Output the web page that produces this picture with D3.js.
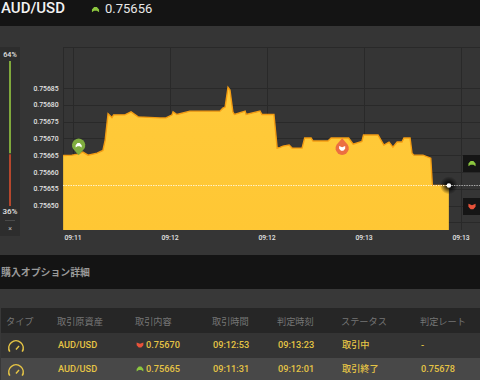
<!DOCTYPE html>
<html>
<head>
<meta charset="utf-8">
<script src="https://cdn.jsdelivr.net/npm/d3@7/dist/d3.min.js"></script>
<style>
  html, body { margin: 0; padding: 0; background: #141414; overflow: hidden; }
  text { font-family: Roboto, "Noto Sans CJK JP", sans-serif; }
  .cjk { font-family: "Noto Sans CJK JP", Roboto, sans-serif; }
</style>
</head>
<body>
<svg id="chart" width="480" height="380"></svg>
<script>
  // DATA
  // seconds after 09:11:00
  var priceSeconds = [27.1, 29.8, 31.7, 33.2, 34.8, 37.6, 39.4, 40.1, 41.0, 42.2, 42.7, 46.2, 48.1, 50.3, 57.1, 58.9,
    60.8, 61.1, 62.3, 66.3, 75.6, 76.5, 77.2, 78.1, 78.7, 79.6, 80.1, 83.4, 83.7, 88.0, 88.6, 92.3, 93.3, 94.2, 95.1,
    97.0, 97.9, 101.0, 101.8, 103.8, 104.4, 109.0, 110.0, 115.4, 116.8, 119.5, 120.0, 124.5, 125.4, 126.3, 127.9,
    129.1, 130.4, 131.9, 132.5, 134.4, 135.0, 135.6, 138.4, 140.8, 141.3, 146.4]
  var priceValues = [0.756649, 0.756650, 0.756653, 0.756659, 0.756650, 0.756656, 0.756664, 0.756695, 0.756773,
    0.756762, 0.756770, 0.756770, 0.756779, 0.756764, 0.756761, 0.756761, 0.756770, 0.756779, 0.756771, 0.756781,
    0.756781, 0.756790, 0.756793, 0.756852, 0.756844, 0.756779, 0.756771, 0.756781, 0.756771, 0.756781, 0.756771,
    0.756771, 0.756671, 0.756673, 0.756677, 0.756680, 0.756671, 0.756671, 0.756701, 0.756701, 0.756692, 0.756692,
    0.756701, 0.756701, 0.756683, 0.756691, 0.756710, 0.756710, 0.756695, 0.756680, 0.756689, 0.756674, 0.756689,
    0.756689, 0.756701, 0.756701, 0.756656, 0.756650, 0.756650, 0.756641, 0.756560, 0.756560]
  var yTicks = [0.75645, 0.75650, 0.75655, 0.75660, 0.75665, 0.75670, 0.75675, 0.75680, 0.75685]
  var xTickSeconds = [30, 60, 90, 120, 150]
  var currentRate = 0.75656
  var pinSeconds = [31.9, 113.4]
  var pinRates = [0.75665, 0.75670]
  var pinKinds = ['up', 'down']
  var tableColumns = ['タイプ', '取引原資産', '取引内容', '取引時間', '判定時刻', 'ステータス', '判定レート']
  var rowAssets = ['AUD/USD', 'AUD/USD']
  var rowRates = ['0.75670', '0.75665']
  var rowKinds = ['down', 'up']
  var rowTradeTimes = ['09:12:53', '09:11:31']
  var rowEndTimes = ['09:13:23', '09:12:01']
  var rowStatus = ['取引中', '取引終了']
  var rowResults = ['-', '0.75678']

  // CONSTANTS
  var plot = { left: 63, right: 480, top: 47, bottom: 230 }
  var baseTime = new Date(2016, 0, 1, 9, 11, 0).getTime()
  var green = '#8cc63f'
  var red = '#e8533a'
  var tableColor = '#e6c545'
  var headerColor = '#757575'
  var columnX = [6, 57, 135, 212, 277, 341, 420]
  var rowY = [345, 369]

  function toDate (seconds) { return new Date(baseTime + seconds * 1000) }

  var svg = d3.select('#chart')

  // gradient and glow
  var defs = svg.append('defs')
  var areaGradient = defs.append('linearGradient').attr('id', 'areaFill')
    .attr('x1', 0).attr('x2', 0).attr('y1', 0).attr('y2', 1)
  areaGradient.append('stop').attr('offset', '0%').attr('stop-color', '#ffca3a')
  areaGradient.append('stop').attr('offset', '100%').attr('stop-color', '#ffc734')
  var glow = defs.append('radialGradient').attr('id', 'glow')
  glow.append('stop').attr('offset', '20%').attr('stop-color', '#000').attr('stop-opacity', 0.9)
  glow.append('stop').attr('offset', '100%').attr('stop-color', '#000').attr('stop-opacity', 0)

  // BACKGROUND BANDS
  svg.append('rect').attr('width', 480).attr('height', 380).attr('fill', '#141414')
  svg.append('rect').attr('y', 26).attr('width', 480).attr('height', 229).attr('fill', '#353535')
  svg.append('rect').attr('y', 47).attr('width', 20).attr('height', 189).attr('fill', '#2d2d2d')
  svg.append('rect').attr('y', 289).attr('width', 480).attr('height', 91).attr('fill', '#383838')

  // SCALES AND AXES
  var xScale = d3.scaleTime()
    .domain([toDate(30), toDate(150)])
    .range([72.5, 460.5])
  var yScale = d3.scaleLinear()
    .domain([0.75650, 0.75685])
    .range([205.5, 88])

  var chartG = svg.append('g')

  // grid
  var gridColor = '#292929'
  chartG.selectAll('.grid-h')
    .data(yTicks)
    .enter().append('line')
    .attr('class', 'grid-h')
    .attr('x1', plot.left).attr('x2', plot.right)
    .attr('y1', function (d) { return Math.round(yScale(d)) + 0.5 })
    .attr('y2', function (d) { return Math.round(yScale(d)) + 0.5 })
    .style('stroke', gridColor)
  chartG.selectAll('.grid-v')
    .data(xTickSeconds)
    .enter().append('line')
    .attr('class', 'grid-v')
    .attr('x1', function (d) { return Math.round(xScale(toDate(d))) + 0.5 })
    .attr('x2', function (d) { return Math.round(xScale(toDate(d))) + 0.5 })
    .attr('y1', plot.top).attr('y2', plot.bottom)
    .style('stroke', gridColor)
  chartG.append('line').attr('x1', plot.left).attr('x2', plot.right).attr('y1', plot.top + 0.5).attr('y2', plot.top + 0.5).style('stroke', gridColor)
  chartG.append('line').attr('x1', plot.left + 0.5).attr('x2', plot.left + 0.5).attr('y1', plot.top).attr('y2', plot.bottom).style('stroke', gridColor)

  // y axis labels
  var yAxis = d3.axisLeft(yScale)
    .tickValues(yTicks)
    .tickSize(0)
    .tickPadding(0)
    .tickFormat(function (d) { return d < 0.75649 ? '' : d3.format('.5f')(d) })
  var yAxisElement = svg.append('g')
    .attr('transform', 'translate(58.5,0)')
    .call(yAxis)
  yAxisElement.select('.domain').remove()
  yAxisElement.selectAll('text')
    .style('font-family', 'Roboto, sans-serif')
    .style('font-size', '6.8px')
    .style('font-weight', 500)
    .style('fill', '#e4e4e4')

  // x axis labels
  var xAxis = d3.axisBottom(xScale)
    .tickValues(xTickSeconds.map(toDate))
    .tickSize(0)
    .tickPadding(0)
    .tickFormat(d3.timeFormat('%H:%M'))
  var xAxisElement = svg.append('g')
    .attr('transform', 'translate(0,' + (plot.bottom + 5.5) + ')')
    .call(xAxis)
  xAxisElement.select('.domain').remove()
  xAxisElement.selectAll('text')
    .style('font-family', 'Roboto, sans-serif')
    .style('font-size', '6.8px')
    .style('font-weight', 500)
    .style('fill', '#e4e4e4')

  // price area
  var priceData = priceSeconds.map(function (s, i) { return { time: toDate(s), value: priceValues[i] } })
  var priceArea = d3.area()
    .x(function (d) { return xScale(d.time) })
    .y0(plot.bottom)
    .y1(function (d) { return yScale(d.value) })
  var priceLine = d3.line()
    .x(function (d) { return xScale(d.time) })
    .y(function (d) { return yScale(d.value) })
  chartG.append('path').datum(priceData).attr('d', priceArea).attr('fill', 'url(#areaFill)')
  chartG.append('path').datum(priceData).attr('d', priceLine)
    .attr('fill', 'none')
    .style('stroke', '#f39c12')
    .style('stroke-width', 1.4)

  // current rate line and marker
  var lastPoint = priceData[priceData.length - 1]
  var currentX = xScale(lastPoint.time)
  var currentY = yScale(currentRate)
  chartG.append('circle')
    .attr('cx', currentX).attr('cy', currentY).attr('r', 9)
    .attr('fill', 'url(#glow)')
  chartG.append('line')
    .attr('x1', plot.left).attr('x2', currentX)
    .attr('y1', Math.round(currentY) + 0.5).attr('y2', Math.round(currentY) + 0.5)
    .style('stroke', '#fff2c8')
    .style('stroke-dasharray', '1.5,1')
  chartG.append('line')
    .attr('x1', currentX).attr('x2', plot.right)
    .attr('y1', Math.round(currentY) + 0.5).attr('y2', Math.round(currentY) + 0.5)
    .style('stroke', '#a8a8a8')
    .style('stroke-dasharray', '1.5,1')
  chartG.append('circle')
    .attr('cx', currentX).attr('cy', Math.round(currentY) + 0.5).attr('r', 2.3)
    .attr('fill', '#fff')

  // chevron icons, drawn around 0,0
  var chevronUp = 'M-4.2,3.2 L-4.2,0 L-1.6,-3 L1.6,-3 L4.2,0 L4.2,3.2 L1.6,1.4 L-1.6,1.4 Z'
  var chevronDown = 'M-4.2,-3.2 L0,-1.6 L4.2,-3.2 L4.2,0.4 L1.6,3.2 L-1.6,3.2 L-4.2,0.4 Z'
  function chevron (parent, kind, x, y, scale, color) {
    parent.append('path')
      .attr('d', kind === 'up' ? chevronUp : chevronDown)
      .attr('transform', 'translate(' + x + ',' + y + ') scale(' + scale + ')')
      .attr('fill', color)
  }

  // trade pins
  pinSeconds.forEach(function (s, i) {
    var up = pinKinds[i] === 'up'
    var tipX = xScale(toDate(s))
    var tipY = yScale(pinRates[i])
    var dir = up ? -1 : 1
    var color = up ? '#7fad3f' : '#ec6f41'
    var pin = chartG.append('g').attr('transform', 'translate(' + tipX + ',' + tipY + ')')
    pin.append('path')
      .attr('d', 'M0,0 L-5.6,' + (dir * 6.5) + ' A6.6,6.6 0 1 ' + (up ? 1 : 0) + ' 5.6,' + (dir * 6.5) + ' Z')
      .attr('fill', color)
    chevron(pin, pinKinds[i], 0, dir * 10, 0.72, '#fff')
  })

  // right side buttons
  var buttonKinds = ['up', 'down']
  var buttonY = [155, 198]
  buttonKinds.forEach(function (kind, i) {
    svg.append('rect').attr('x', 463).attr('y', buttonY[i]).attr('width', 17).attr('height', 17).attr('fill', '#151515')
    chevron(svg, kind, 472, buttonY[i] + 8.5, 0.85, kind === 'up' ? green : red)
  })

  // LEFT RATIO BAR
  var ratioScale = d3.scaleLinear().domain([0, 100]).range([206, 61])
  svg.append('rect').attr('x', 9).attr('width', 2).attr('y', ratioScale(100)).attr('height', ratioScale(36) - ratioScale(100) - 0.5).attr('fill', '#7fa83c')
  svg.append('rect').attr('x', 9).attr('width', 2).attr('y', ratioScale(36) + 0.5).attr('height', ratioScale(0) - ratioScale(36) - 0.5).attr('fill', '#b5472d')
  svg.append('text').attr('x', 10).attr('y', 57).attr('text-anchor', 'middle').style('font-size', '7.2px').style('font-weight', 500).style('fill', '#e4e4e4').text('64%')
  svg.append('text').attr('x', 10).attr('y', 214).attr('text-anchor', 'middle').style('font-size', '8px').style('font-weight', 500).style('fill', '#e4e4e4').text('36%')
  svg.append('line').attr('x1', 5).attr('x2', 15).attr('y1', 220.5).attr('y2', 220.5).style('stroke', '#4a4a4a')
  svg.append('text').attr('x', 10).attr('y', 230.5).attr('text-anchor', 'middle').style('font-size', '7px').style('fill', '#b5b5b5').text('×')

  // HEADER
  svg.append('text').attr('x', 1).attr('y', 12.5).style('font-size', '15px').style('font-weight', 500).style('fill', '#f2f2f2').text('AUD/USD')
  chevron(svg, 'up', 95.5, 9.5, 0.85, green)
  svg.append('text').attr('x', 105).attr('y', 12.5).style('font-size', '13px').style('fill', '#e8e8e8').text('0.75656')

  // TABLE
  svg.append('text').attr('class', 'cjk').attr('x', 1).attr('y', 276).style('font-size', '9.9px').style('font-weight', 700).style('fill', '#9a9a9a').text('購入オプション詳細')
  svg.append('rect').attr('x', 1).attr('y', 308).attr('width', 479).attr('height', 25).attr('fill', '#262626')
  svg.append('rect').attr('x', 1).attr('y', 333).attr('width', 479).attr('height', 25).attr('fill', '#343434')
  svg.append('rect').attr('x', 1).attr('y', 358).attr('width', 479).attr('height', 22).attr('fill', '#484848')

  svg.selectAll('.table-head')
    .data(tableColumns)
    .enter().append('text')
    .attr('class', 'table-head cjk')
    .attr('x', function (d, i) { return columnX[i] })
    .attr('y', 324.5)
    .style('font-size', '9.2px')
    .style('fill', headerColor)
    .text(function (d) { return d })

  function tableText (x, y, value, cjk) {
    svg.append('text')
      .attr('class', cjk ? 'cjk' : null)
      .attr('x', x).attr('y', y)
      .style('font-size', '9.2px')
      .style('font-weight', 500)
      .style('fill', tableColor)
      .text(value)
  }

  rowY.forEach(function (y, i) {
    // gauge icon
    var gauge = svg.append('g').attr('transform', 'translate(16,' + (y + 3) + ')')
    gauge.append('path')
      .attr('d', d3.arc()({ innerRadius: 6.4, outerRadius: 8, startAngle: -2.1, endAngle: 2.1 }))
      .attr('fill', tableColor)
    gauge.append('line').attr('x1', 0).attr('y1', 1.5).attr('x2', 3).attr('y2', -2)
      .style('stroke', tableColor).style('stroke-width', 1.4)

    tableText(columnX[1] + 1, y + 3.2, rowAssets[i], false)
    chevron(svg, rowKinds[i], 140, y, 0.8, rowKinds[i] === 'up' ? green : red)
    tableText(146, y + 3.2, rowRates[i], false)
    tableText(columnX[3] + 1, y + 3.2, rowTradeTimes[i], false)
    tableText(columnX[4] + 1, y + 3.2, rowEndTimes[i], false)
    tableText(columnX[5] + 1, y + 3.2, rowStatus[i], true)
    tableText(columnX[6] + 1, y + 3.2, rowResults[i], false)
  })
</script>
</body>
</html>
